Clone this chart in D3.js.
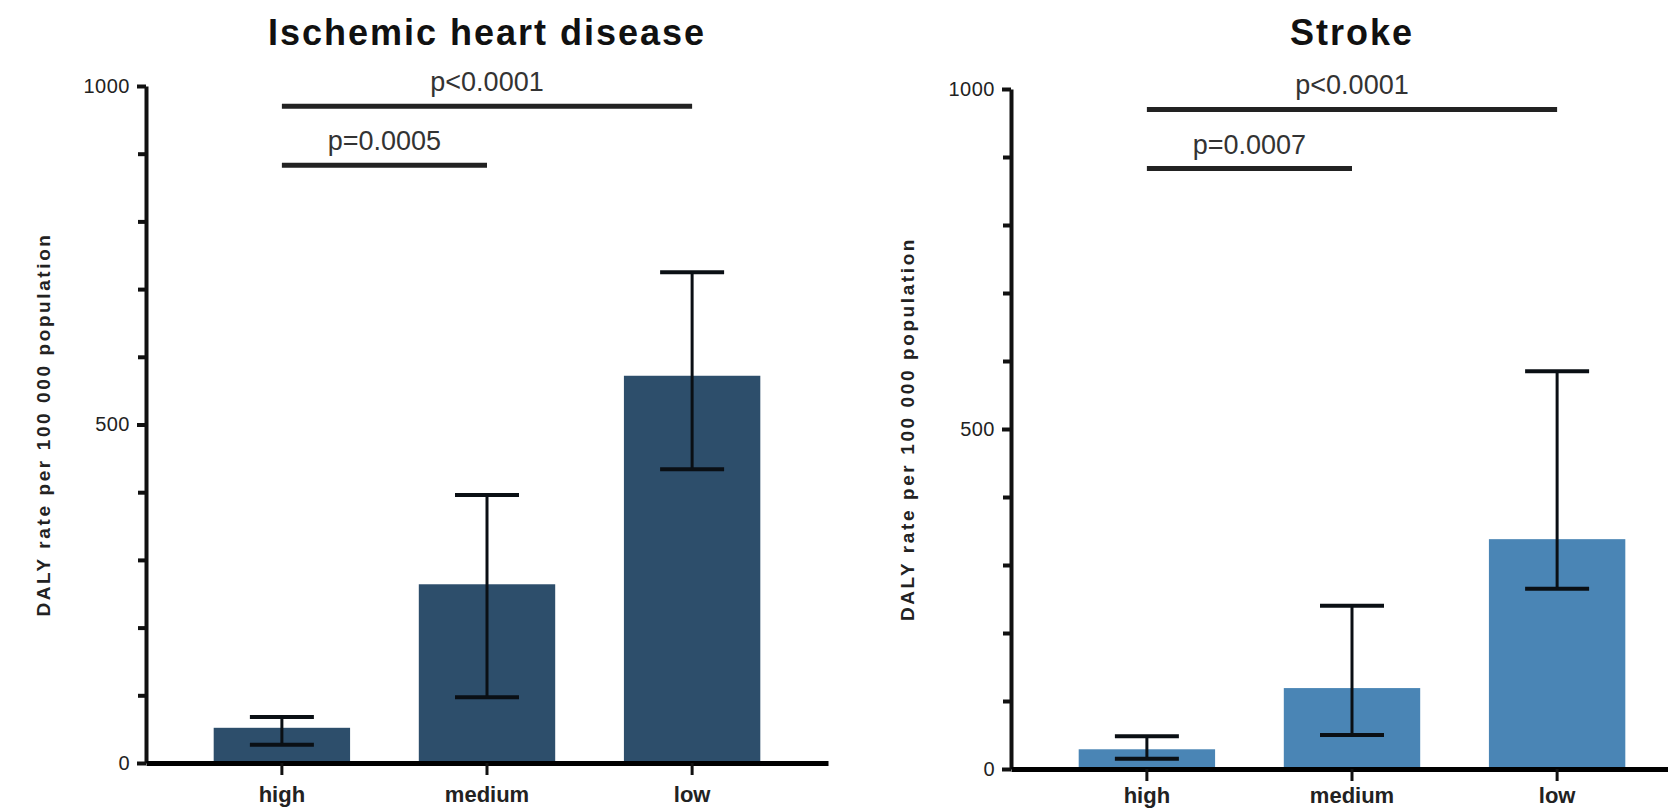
<!DOCTYPE html>
<html>
<head>
<meta charset="utf-8">
<script src="https://cdn.jsdelivr.net/npm/d3@7"></script>
<style>
  html, body { margin: 0; padding: 0; background: #fff; }
  svg { display: block; font-family: "Liberation Sans", Arial, sans-serif; }
</style>
</head>
<body>
<div id="chart"></div>
<script>
// categories (x axis)
const categories = ["high", "medium", "low"];

// Ischemic heart disease: mean and error bar ends
const ihdMeans = [52, 264, 572];
const ihdLower = [27, 97, 434];
const ihdUpper = [68, 396, 725];

// Stroke: mean and error bar ends
const strokeMeans = [29, 119, 338];
const strokeLower = [15, 50, 265];
const strokeUpper = [48, 240, 585];

// y ticks
const yTicks = [0, 500, 1000];
const yMinorTicks = [100, 200, 300, 400, 600, 700, 800, 900];

// significance brackets
const ihdComparisons = [
    { from: "high", to: "low", level: 970, label: "p<0.0001" },
    { from: "high", to: "medium", level: 883, label: "p=0.0005" }
];
const strokeComparisons = [
    { from: "high", to: "low", level: 970, label: "p<0.0001" },
    { from: "high", to: "medium", level: 883, label: "p=0.0007" }
];

const yLabel = "DALY rate per 100 000 population";

const width = 1668,
    height = 812;

const svg = d3.select("#chart")
    .append("svg")
    .attr("width", width)
    .attr("height", height);

function drawPanel(p) {
    const g = svg.append("g");

    const x = d3.scaleBand()
        .domain(categories)
        .range([p.left, p.right])
        .paddingInner(0.335)
        .paddingOuter(0.33);

    const y = d3.scaleLinear()
        .domain([0, 1000])
        .range([p.bottom, p.top]);

    const rows = categories.map((c, i) => ({
        cat: c,
        mean: p.means[i],
        lo: p.lower[i],
        hi: p.upper[i]
    }));

    // bars
    g.selectAll(".bar")
        .data(rows)
        .join("rect")
        .attr("class", "bar")
        .attr("x", d => x(d.cat))
        .attr("width", x.bandwidth())
        .attr("y", d => y(d.mean))
        .attr("height", d => y(0) - y(d.mean))
        .attr("fill", p.color);

    // error bars
    const capW = 64;
    const err = g.selectAll(".err")
        .data(rows)
        .join("g")
        .attr("class", "err")
        .attr("stroke", "#0a0f14");
    err.append("line")
        .attr("x1", d => x(d.cat) + x.bandwidth() / 2)
        .attr("x2", d => x(d.cat) + x.bandwidth() / 2)
        .attr("y1", d => y(d.lo))
        .attr("y2", d => y(d.hi))
        .attr("stroke-width", 3);
    err.append("line")
        .attr("x1", d => x(d.cat) + x.bandwidth() / 2 - capW / 2)
        .attr("x2", d => x(d.cat) + x.bandwidth() / 2 + capW / 2)
        .attr("y1", d => y(d.hi))
        .attr("y2", d => y(d.hi))
        .attr("stroke-width", 4);
    err.append("line")
        .attr("x1", d => x(d.cat) + x.bandwidth() / 2 - capW / 2)
        .attr("x2", d => x(d.cat) + x.bandwidth() / 2 + capW / 2)
        .attr("y1", d => y(d.lo))
        .attr("y2", d => y(d.lo))
        .attr("stroke-width", 4);

    // y axis, minor ticks
    g.append("g")
        .attr("transform", `translate(${p.left}, 0)`)
        .call(d3.axisLeft(y).tickValues(yMinorTicks).tickSize(8).tickFormat(""))
        .call(a => a.select(".domain").remove())
        .call(a => a.selectAll("line").attr("stroke", "#111").attr("stroke-width", 4));

    // y axis, major ticks
    g.append("g")
        .attr("transform", `translate(${p.left}, 0)`)
        .call(d3.axisLeft(y).tickValues(yTicks).tickFormat(d3.format("d"))
            .tickSize(9).tickSizeOuter(0).tickPadding(7))
        .call(a => a.select(".domain").attr("stroke", "#111").attr("stroke-width", 4))
        .call(a => a.selectAll("line").attr("stroke", "#111").attr("stroke-width", 4))
        .call(a => a.selectAll("text")
            .attr("font-size", 20)
            .attr("letter-spacing", 0.5)
            .attr("fill", "#222"));

    // x axis
    g.append("g")
        .attr("transform", `translate(0, ${p.bottom})`)
        .call(d3.axisBottom(x).tickSize(12).tickSizeOuter(0).tickPadding(p.labelPad))
        .call(a => a.select(".domain").attr("stroke", "#000").attr("stroke-width", 5))
        .call(a => a.selectAll("line").attr("stroke", "#111").attr("stroke-width", 3))
        .call(a => a.selectAll("text")
            .attr("font-size", 22)
            .attr("font-weight", "bold")
            .attr("fill", "#222"));

    // y label
    g.append("text")
        .attr("transform", `translate(${p.yLabelX}, ${(p.top + p.bottom) / 2}) rotate(-90)`)
        .attr("text-anchor", "middle")
        .attr("dominant-baseline", "central")
        .attr("font-size", 19)
        .attr("font-weight", "bold")
        .attr("letter-spacing", 2.6)
        .attr("fill", "#222")
        .text(yLabel);

    // title
    g.append("text")
        .attr("x", x("medium") + x.bandwidth() / 2)
        .attr("y", 45)
        .attr("text-anchor", "middle")
        .attr("font-size", 36)
        .attr("font-weight", "bold")
        .attr("letter-spacing", 2)
        .attr("fill", "#111")
        .text(p.title);

    // significance brackets
    const cx = c => x(c) + x.bandwidth() / 2;
    const comp = g.selectAll(".comp")
        .data(p.comparisons)
        .join("g")
        .attr("class", "comp");
    comp.append("line")
        .attr("x1", d => cx(d.from))
        .attr("x2", d => cx(d.to))
        .attr("y1", d => y(d.level))
        .attr("y2", d => y(d.level))
        .attr("stroke", "#222")
        .attr("stroke-width", 5);
    comp.append("text")
        .attr("x", d => (cx(d.from) + cx(d.to)) / 2)
        .attr("y", d => y(d.level) - 15)
        .attr("text-anchor", "middle")
        .attr("font-size", 27)
        .attr("fill", "#333")
        .text(d => d.label);
}

drawPanel({
    title: "Ischemic heart disease",
    means: ihdMeans,
    lower: ihdLower,
    upper: ihdUpper,
    comparisons: ihdComparisons,
    color: "#2d4e6b",
    left: 146,
    right: 828,
    top: 86,
    bottom: 763,
    yLabelX: 43,
    labelPad: 11
});

drawPanel({
    title: "Stroke",
    means: strokeMeans,
    lower: strokeLower,
    upper: strokeUpper,
    comparisons: strokeComparisons,
    color: "#4a85b5",
    left: 1011,
    right: 1693,
    top: 89,
    bottom: 769,
    yLabelX: 907,
    labelPad: 6
});
</script>
</body>
</html>
